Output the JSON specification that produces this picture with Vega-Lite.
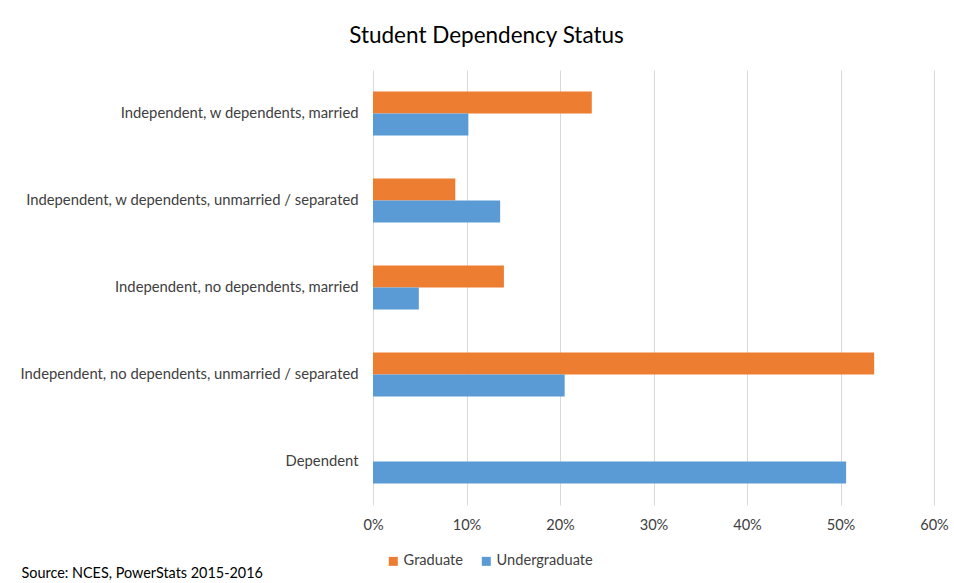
{
  "$schema": "https://vega.github.io/schema/vega-lite/v6.json",
  "width": 561,
  "height": 435,
  "autosize": {"type": "none"},
  "padding": {"left": 373, "top": 70, "right": 20, "bottom": 78},
  "background": "white",
  "title": {
    "text": "Student Dependency Status",
    "font": "Lato",
    "fontSize": 22.5,
    "fontWeight": "normal",
    "color": "#000000",
    "anchor": "middle",
    "dx": -167,
    "offset": 23
  },
  "data": {
    "values": [
      {"category": "Independent, w dependents, married", "group": "Graduate", "value": 0.234},
      {"category": "Independent, w dependents, married", "group": "Undergraduate", "value": 0.102},
      {"category": "Independent, w dependents, unmarried / separated", "group": "Graduate", "value": 0.088},
      {"category": "Independent, w dependents, unmarried / separated", "group": "Undergraduate", "value": 0.136},
      {"category": "Independent, no dependents, married", "group": "Graduate", "value": 0.140},
      {"category": "Independent, no dependents, married", "group": "Undergraduate", "value": 0.049},
      {"category": "Independent, no dependents, unmarried / separated", "group": "Graduate", "value": 0.536},
      {"category": "Independent, no dependents, unmarried / separated", "group": "Undergraduate", "value": 0.205},
      {"category": "Dependent", "group": "Graduate", "value": 0.0},
      {"category": "Dependent", "group": "Undergraduate", "value": 0.506}
    ]
  },
  "mark": {"type": "bar"},
  "encoding": {
    "y": {
      "field": "category",
      "type": "nominal",
      "sort": null,
      "scale": {"paddingInner": 0.494, "paddingOuter": 0.247},
      "axis": {
        "title": null,
        "domain": false,
        "ticks": false,
        "labelPadding": 15,
        "labelFont": "Lato",
        "labelFontSize": 14.8,
        "labelColor": "#404040",
        "labelLimit": 400
      }
    },
    "yOffset": {"field": "group", "type": "nominal", "sort": ["Graduate", "Undergraduate"]},
    "x": {
      "field": "value",
      "type": "quantitative",
      "scale": {"domain": [0, 0.6], "nice": false},
      "axis": {
        "format": ".0%",
        "values": [0, 0.1, 0.2, 0.3, 0.4, 0.5, 0.6],
        "domain": false,
        "ticks": false,
        "grid": true,
        "gridColor": "#d9d9d9",
        "gridWidth": 1,
        "labelFlush": false,
        "labelPadding": 12,
        "labelFont": "Lato",
        "labelFontSize": 14.6,
        "labelColor": "#404040",
        "title": "Source: NCES, PowerStats 2015-2016",
        "titleFont": "Lato",
        "titleFontSize": 14.4,
        "titleFontWeight": "normal",
        "titleColor": "#000000",
        "titleAlign": "left",
        "titleAnchor": "start",
        "titleX": -352,
        "titleY": 68,
        "titleBaseline": "middle"
      }
    },
    "color": {
      "field": "group",
      "type": "nominal",
      "sort": ["Graduate", "Undergraduate"],
      "scale": {"domain": ["Graduate", "Undergraduate"], "range": ["#ED7D31", "#5B9BD5"]},
      "legend": {
        "title": null,
        "orient": "none",
        "direction": "horizontal",
        "legendX": 13,
        "legendY": 484,
        "symbolType": "square",
        "symbolSize": 81,
        "labelFont": "Lato",
        "labelFontSize": 14.6,
        "labelColor": "#404040",
        "columnPadding": 16,
        "labelOffset": 3
      }
    }
  },
  "config": {"view": {"stroke": null}}
}
